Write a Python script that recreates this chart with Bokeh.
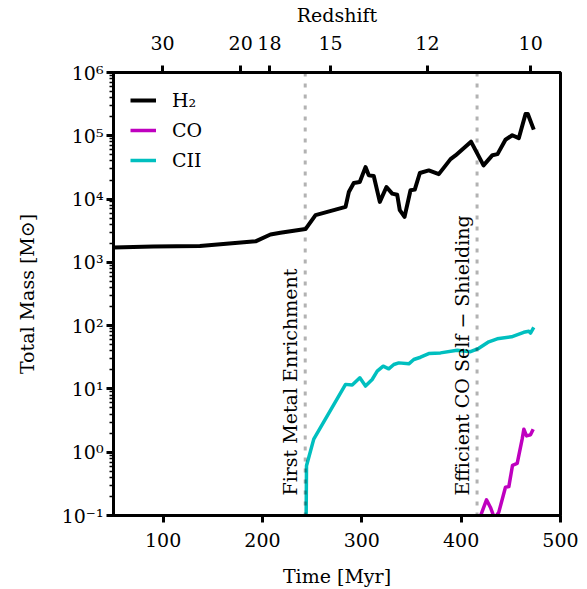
from bokeh.plotting import figure
from bokeh.models import (Range1d, LinearAxis, FixedTicker, Span, Label,
                          CustomJSTickFormatter)
from bokeh.embed import file_html
from bokeh.resources import INLINE

# ---------------- data ----------------
h2_time = [50, 90, 137, 193, 208, 218, 243.3, 253.4, 283.6, 286.9, 291.9, 297.9,
           303.7, 307, 312, 318.1, 324.8, 330.6, 335.6, 338.2, 343, 349, 353.3,
           358.4, 367.4, 377.5, 389.3, 394.3, 409.9, 422.5, 431.5, 436.6, 444.6,
           451.4, 458, 464.8, 467.1, 473.1]
h2_mass = [1710, 1780, 1820, 2150, 2750, 2930, 3360, 5570, 7520, 12900, 17900,
           18600, 32000, 23700, 23100, 9020, 15500, 12200, 11700, 6670, 5230,
           13800, 14100, 25800, 28400, 24800, 42800, 49000, 80700, 34000, 49400,
           51300, 86700, 102000, 91600, 221000, 221000, 125000]

co_time = [416, 425.5, 429.5, 433.6, 437.9, 444.6, 448, 451.7, 456.4, 461.4,
           463.1, 465.8, 469.8, 472.5]
co_mass = [0.07, 0.177, 0.134, 0.09, 0.113, 0.279, 0.286, 0.622, 0.665, 1.61,
           2.31, 1.81, 1.88, 2.31]

cii_time = [243.5, 244.3, 251.6, 283.6, 290.3, 298, 303.7, 310.4, 315.5, 321.5,
            327.1, 332.2, 337.2, 347.3, 352.3, 359.1, 367.4, 379.2, 396, 409.4,
            417.8, 427.8, 436.3, 450.7, 463, 468.1, 469.8, 473.1]
cii_mass = [0.01, 0.61, 1.61, 11.8, 11.5, 15.0, 11.1, 14.1, 19.1, 22.9, 20.8,
            24.3, 25.8, 24.9, 29.2, 31.7, 36.2, 37.1, 40.8, 38.7, 43.9, 55.6, 62,
            66.7, 78.4, 81.3, 76.4, 94]

time_ticks = [100, 200, 300, 400, 500]
redshift_labels = ["30", "20", "18", "15", "12", "10"]
redshift_times = [99.3, 178.0, 207.0, 268.5, 366.0, 470.0]

event_times = [243.0, 416.0]
event_labels = ["First Metal Enrichment", "Efficient CO Self \u2212 Shielding"]

series_names = ["H\u2082", "CO", "CII"]
series_colors = ["black", "#bf00bf", "#00bfbf"]

# ---------------- figure ----------------
FONT = "DejaVu Serif"
FS = "19px"

p = figure(width=587, height=589, x_range=Range1d(50, 500),
           y_range=Range1d(0.1, 1e6), y_axis_type="log",
           output_backend="svg", toolbar_location=None,
           min_border_left=113, min_border_right=27,
           min_border_top=70, min_border_bottom=74)
p.grid.visible = False
p.outline_line_color = "black"
p.outline_line_width = 3
p.background_fill_color = "white"
p.border_fill_color = "white"

p.line(h2_time, h2_mass, line_color=series_colors[0], line_width=4,
       line_join="round", legend_label=series_names[0])
p.line(co_time, co_mass, line_color=series_colors[1], line_width=3.5,
       line_join="round", legend_label=series_names[1])
p.line(cii_time, cii_mass, line_color=series_colors[2], line_width=3.5,
       line_join="round", legend_label=series_names[2])

for t, lab in zip(event_times, event_labels):
    p.add_layout(Span(location=t, dimension="height", line_color="black",
                      line_alpha=0.3, line_width=3, line_dash="4 7"))
    p.add_layout(Label(x=t, y=0.1, x_offset=-15, y_offset=20, angle=1.5707963,
                       text=lab, text_font=FONT, text_font_size=FS,
                       text_align="left", text_baseline="alphabetic",
                       text_color="black"))

bottom = p.below[0]
left = p.left[0]

# top axis (redshift)
p.extra_x_ranges = {"z": Range1d(50, 500)}
top = LinearAxis(x_range_name="z", axis_label="Redshift",
                 ticker=FixedTicker(ticks=redshift_times, minor_ticks=[]),
                 major_label_overrides=dict(zip(redshift_times, redshift_labels)))
p.add_layout(top, "above")

bottom.ticker = FixedTicker(ticks=time_ticks, minor_ticks=[])
bottom.axis_label = "Time [Myr]"
left.axis_label = "Total Mass [M\u2299]"
left.formatter = CustomJSTickFormatter(code="""
const s = {"0":"\u2070","1":"\u00b9","2":"\u00b2","3":"\u00b3","4":"\u2074",
           "5":"\u2075","6":"\u2076","7":"\u2077","8":"\u2078","9":"\u2079","-":"\u207b"};
const e = Math.round(Math.log10(tick));
return "10" + String(e).split("").map(c => s[c]).join("");
""")

for ax in [bottom, left, top]:
    ax.axis_line_width = 3
    ax.axis_line_color = "black"
    ax.major_tick_line_width = 3
    ax.major_tick_out = 7
    ax.major_tick_in = 0
    ax.minor_tick_line_width = 1.5
    ax.minor_tick_out = 4
    ax.minor_tick_in = 0
    ax.major_label_text_font = FONT
    ax.major_label_text_font_size = FS
    ax.major_label_text_color = "black"
    ax.axis_label_text_font = FONT
    ax.axis_label_text_font_size = FS
    ax.axis_label_text_font_style = "normal"
    ax.axis_label_text_color = "black"

left.major_label_standoff = 3
left.axis_label_standoff = 21
top.major_label_standoff = 16
top.axis_label_standoff = 7
bottom.major_label_standoff = 10
bottom.axis_label_standoff = 15

leg = p.legend[0]
leg.location = "top_left"
leg.border_line_color = None
leg.background_fill_alpha = 0
leg.margin = 17
leg.padding = 10
leg.spacing = 8
leg.glyph_width = 26
leg.glyph_height = 22
leg.label_height = 22
leg.label_standoff = 16
leg.label_text_font = FONT
leg.label_text_font_size = FS
leg.label_text_color = "black"

open("out.html", "w").write(file_html(p, INLINE))
